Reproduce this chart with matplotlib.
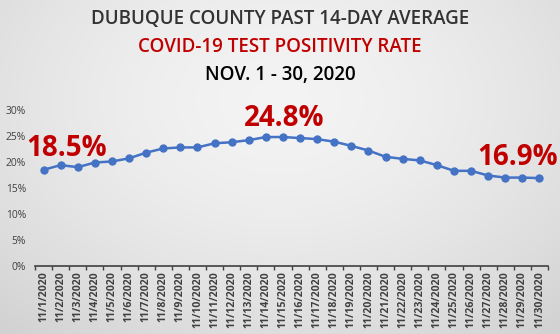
import numpy as np
import matplotlib
matplotlib.use("Agg")
import matplotlib.pyplot as plt
from matplotlib.ticker import PercentFormatter

dates = [f"11/{d}/2020" for d in range(1, 31)]
values = [18.5, 19.4, 19.0, 19.9, 20.1, 20.7, 21.8, 22.6, 22.8, 22.8,
          23.6, 23.8, 24.2, 24.8, 24.8, 24.6, 24.4, 23.9, 23.1, 22.2,
          21.0, 20.6, 20.3, 19.4, 18.3, 18.3, 17.4, 17.0, 17.0, 16.9]
ann_text = ["18.5%", "24.8%", "16.9%"]
titles = ["DUBUQUE COUNTY PAST 14-DAY AVERAGE",
          "COVID-19 TEST POSITIVITY RATE",
          "NOV. 1 - 30, 2020"]

fig = plt.figure(figsize=(5.6, 3.34), dpi=100)

# gradient background
bg = fig.add_axes([0, 0, 1, 1], zorder=-10)
yy, xx = np.mgrid[0:1:200j, 0:1:300j]
r = np.sqrt(((xx - 0.5) / 0.75) ** 2 + ((yy - 0.3) / 0.9) ** 2)
img = 0.955 - 0.13 * np.clip(r, 0, 1.2) ** 1.6
bg.imshow(np.dstack([img] * 3), extent=[0, 1, 0, 1], aspect="auto", origin="upper")
bg.axis("off")

font = "Open Sans"
ax = fig.add_axes([0.0625, 0.2036, 0.9161, 0.4671])
ax.patch.set_alpha(0)
x = np.arange(len(values))
ax.plot(x, values, color="#4472c4", lw=1.8, marker="o", ms=5, zorder=3)
ax.set_xlim(-0.5, len(values) - 0.5)
ax.set_ylim(0, 30)
ax.set_yticks(range(0, 31, 5))
ax.yaxis.set_major_formatter(PercentFormatter(decimals=0))
ax.set_xticks(x)
ax.set_xticklabels(dates, rotation=90, fontsize=7.6, color="#404040",
                   fontfamily=font, fontweight="bold")
ax.set_xticks(np.arange(-0.5, len(values)), minor=True)
ax.tick_params(axis="x", which="major", length=0, pad=4)
ax.tick_params(axis="x", which="minor", length=3, color="#404040", width=1)
ax.tick_params(axis="y", length=0, labelsize=7.4, labelcolor="#404040", pad=6.5)
for lab in ax.get_yticklabels():
    lab.set_fontfamily(font)
for s in ["top", "right", "left"]:
    ax.spines[s].set_visible(False)
ax.spines["bottom"].set_color("#404040")
ax.spines["bottom"].set_linewidth(1.2)

# label positions (data coords)
ann_pos = [(1.37, 22.5), (14.1, 28.3), (27.7, 20.9)]
for t, (px, py) in zip(ann_text, ann_pos):
    ax.text(px, py, t, color="#c00000", fontsize=20, fontweight="bold",
            fontfamily=font, ha="center", va="center", clip_on=False)

colors = ["#333333", "#c00000", "#000000"]
ys = [1 - 19 / 334, 1 - 47 / 334, 1 - 75 / 334]
for t, c, y in zip(titles, colors, ys):
    fig.text(0.5, y, t, ha="center", va="center", fontsize=13.5, color=c,
             fontfamily=font, fontweight="semibold")

fig.savefig("out.png", dpi=100)
